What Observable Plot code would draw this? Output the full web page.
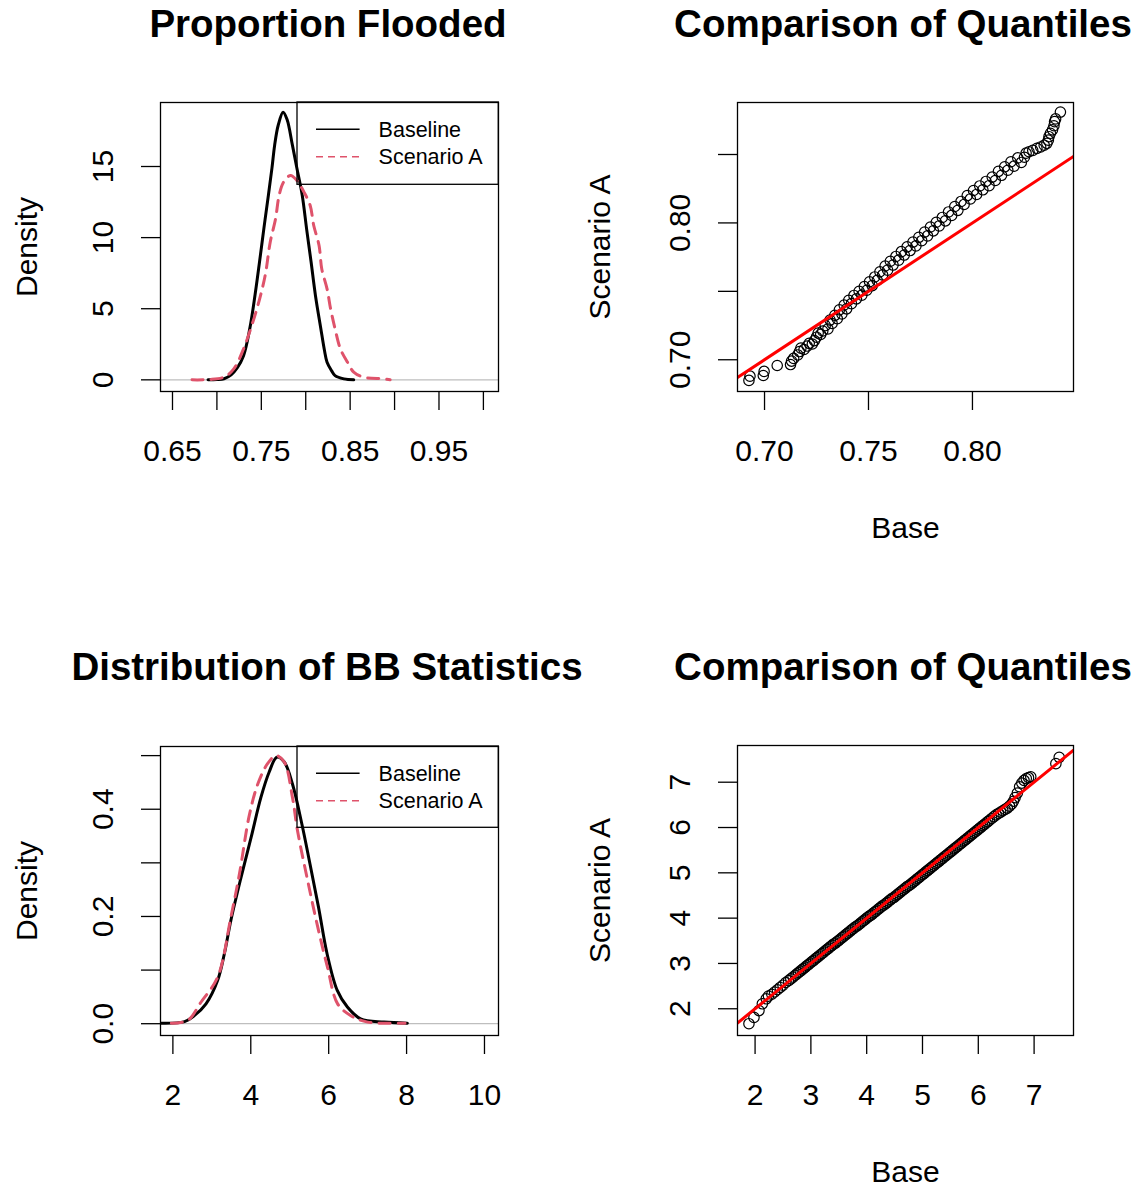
<!DOCTYPE html>
<html>
<head>
<meta charset="utf-8">
<script src="https://cdn.jsdelivr.net/npm/d3@7"></script>
<script src="https://cdn.jsdelivr.net/npm/@observablehq/plot@0.6"></script>
<style>
  html, body { margin: 0; padding: 0; background: #fff; }
  #page { position: relative; width: 1138px; height: 1190px; overflow: hidden; background: #fff; }
</style>
</head>
<body>
<div id="page"></div>
<script>
// ---------------- Data ----------------
// Panel 1: Proportion Flooded (density curves)
const p1BaseX = [0.690, 0.700, 0.708, 0.716, 0.723, 0.730, 0.737, 0.743, 0.748, 0.753, 0.758, 0.762, 0.765, 0.769, 0.7745, 0.779, 0.785, 0.790, 0.796, 0.801, 0.806, 0.811, 0.817, 0.821, 0.824, 0.829, 0.833, 0.843, 0.854];
const p1BaseY = [0.00, 0.02, 0.08, 0.35, 0.85, 1.70, 3.60, 6.00, 8.30, 10.7, 13.0, 14.9, 16.5, 17.9, 18.82, 18.3, 16.5, 14.9, 13.0, 10.6, 8.30, 5.90, 3.60, 2.10, 1.24, 0.65, 0.30, 0.07, 0.00];
const p1ScenX = [0.672, 0.691, 0.708, 0.719, 0.730, 0.738, 0.745, 0.751, 0.755, 0.760, 0.766, 0.770, 0.775, 0.783, 0.790, 0.798, 0.805, 0.809, 0.815, 0.818, 0.824, 0.828, 0.833, 0.839, 0.847, 0.854, 0.865, 0.888, 0.895];
const p1ScenY = [0.00, 0.02, 0.19, 0.77, 2.18, 3.59, 4.99, 6.40, 7.57, 9.68, 11.32, 12.96, 13.90, 14.37, 14.02, 13.20, 12.26, 10.85, 9.45, 7.81, 6.40, 4.99, 3.59, 2.18, 1.24, 0.54, 0.19, 0.07, 0.00];
const p1XTicks = [0.65, 0.70, 0.75, 0.80, 0.85, 0.90, 0.95, 1.00];
const p1XLabels = ["0.65", "", "0.75", "", "0.85", "", "0.95", ""];
const p1YTicks = [0, 5, 10, 15];
const p1YLabels = ["0", "5", "10", "15"];
const p1XDomain = [0.6365, 1.017];
const p1YDomain = [-0.82, 19.5];

// Panel 2: Comparison of Quantiles (proportion flooded)
const p2Base = [0.6925,0.6930,0.6994,0.6998,0.7061,0.7125,0.7130,0.7140,0.7160,0.7168,
                0.7175,0.7190,0.7205,0.7215,0.7230,0.7240,0.7250,0.7258,0.7270,0.7280,
                0.7292,0.7305,0.7315,0.7325,0.7338,0.7350,0.7360,0.7372,0.7383,0.7395,
                0.7405,0.7418,0.7430,0.7442,0.7455,0.7468,0.7480,0.7492,0.7505,0.7518,
                0.7530,0.7542,0.7555,0.7568,0.7580,0.7592,0.7605,0.7618,0.7632,0.7645,
                0.7658,0.7672,0.7686,0.7700,0.7714,0.7728,0.7742,0.7756,0.7770,0.7784,
                0.7798,0.7812,0.7826,0.7840,0.7855,0.7870,0.7885,0.7900,0.7915,0.7930,
                0.7945,0.7960,0.7975,0.7990,0.8005,0.8020,0.8035,0.8050,0.8065,0.8080,
                0.8095,0.8110,0.8125,0.8140,0.8155,0.8170,0.8185,0.8200,0.8218,0.8235,
                0.8250,0.8258,0.8272,0.8290,0.8310,0.8328,0.8345,0.8358,0.8365,0.8368,
                0.8375,0.8385,0.8392,0.8395,0.8400,0.8423];
const p2Scen = [0.6849,0.6880,0.6885,0.6915,0.6958,0.6965,0.6990,0.7010,0.7035,0.7060,
                0.7085,0.7075,0.7100,0.7120,0.7115,0.7140,0.7165,0.7195,0.7185,0.7210,
                0.7250,0.7225,0.7290,0.7265,0.7325,0.7300,0.7365,0.7335,0.7400,0.7372,
                0.7435,0.7410,0.7470,0.7445,0.7500,0.7472,0.7535,0.7508,0.7570,0.7542,
                0.7605,0.7580,0.7643,0.7620,0.7685,0.7655,0.7720,0.7692,0.7755,0.7728,
                0.7790,0.7765,0.7825,0.7798,0.7860,0.7832,0.7895,0.7870,0.7933,0.7905,
                0.7970,0.7942,0.8005,0.7978,0.8040,0.8015,0.8080,0.8055,0.8120,0.8092,
                0.8157,0.8135,0.8200,0.8175,0.8237,0.8208,0.8270,0.8242,0.8303,0.8272,
                0.8335,0.8310,0.8377,0.8348,0.8410,0.8385,0.8447,0.8415,0.8475,0.8442,
                0.8480,0.8510,0.8520,0.8530,0.8545,0.8555,0.8568,0.8582,0.8605,0.8630,
                0.8655,0.8680,0.8710,0.8740,0.8760,0.8810];
const p2XTicks = [0.70, 0.75, 0.80];
const p2XLabels = ["0.70", "0.75", "0.80"];
const p2YTicks = [0.70, 0.75, 0.80, 0.85];
const p2YLabels = ["0.70", "", "0.80", ""];
const p2XDomain = [0.687, 0.8486];
const p2YDomain = [0.6768, 0.888];

// Panel 3: Distribution of BB Statistics (density curves)
const p3BaseX = [1.70, 2.30, 2.55, 2.85, 3.15, 3.32, 3.49, 3.75, 4.01, 4.26, 4.47, 4.67, 4.86, 5.07, 5.31, 5.52, 5.74, 5.96, 6.22, 6.48, 6.82, 7.42, 8.02];
const p3BaseY = [0.001, 0.004, 0.015, 0.037, 0.081, 0.130, 0.193, 0.273, 0.348, 0.422, 0.469, 0.497, 0.488, 0.447, 0.373, 0.298, 0.217, 0.130, 0.062, 0.031, 0.009, 0.003, 0.001];
const p3ScenX = [1.96, 2.38, 2.72, 3.15, 3.49, 3.71, 3.96, 4.18, 4.43, 4.65, 4.86, 5.07, 5.20, 5.46, 5.72, 5.97, 6.23, 6.57, 7.00, 7.96];
const p3ScenY = [0.001, 0.006, 0.040, 0.087, 0.199, 0.280, 0.388, 0.447, 0.485, 0.500, 0.488, 0.422, 0.360, 0.267, 0.180, 0.105, 0.037, 0.015, 0.003, 0.001];
const p3XTicks = [2, 4, 6, 8, 10];
const p3XLabels = ["2", "4", "6", "8", "10"];
const p3YTicks = [0.0, 0.1, 0.2, 0.3, 0.4, 0.5];
const p3YLabels = ["0.0", "", "0.2", "", "0.4", ""];
const p3XDomain = [1.682, 10.36];
const p3YDomain = [-0.022, 0.517];

// Panel 4: Comparison of Quantiles (BB statistics)
const p4Base = [1.89, 1.98, 2.07, 2.13, 2.20, 2.24, 2.30, 2.35, 2.40, 2.45,
                2.50, 2.55, 2.60, 2.64, 2.68, 2.72, 2.75, 2.78, 2.81, 2.84,
                2.87, 2.90, 2.93, 2.96, 2.99, 3.02, 3.05, 3.08, 3.11, 3.14,
                3.17, 3.20, 3.23, 3.26, 3.29, 3.32, 3.35, 3.38, 3.41, 3.44,
                3.47, 3.50, 3.53, 3.56, 3.59, 3.62, 3.65, 3.68, 3.71, 3.74,
                3.77, 3.80, 3.83, 3.86, 3.89, 3.92, 3.95, 3.98, 4.01, 4.04,
                4.07, 4.10, 4.13, 4.16, 4.19, 4.22, 4.25, 4.28, 4.31, 4.34,
                4.37, 4.40, 4.43, 4.46, 4.49, 4.52, 4.55, 4.58, 4.61, 4.64,
                4.67, 4.70, 4.73, 4.76, 4.79, 4.82, 4.85, 4.88, 4.91, 4.94,
                4.97, 5.00, 5.03, 5.06, 5.09, 5.12, 5.15, 5.18, 5.21, 5.24,
                5.27, 5.30, 5.33, 5.36, 5.39, 5.42, 5.45, 5.48, 5.51, 5.54,
                5.57, 5.60, 5.63, 5.66, 5.69, 5.72, 5.75, 5.78, 5.81, 5.84,
                5.87, 5.90, 5.93, 5.96, 5.99, 6.02, 6.05, 6.08, 6.11, 6.14,
                6.17, 6.20, 6.24, 6.28, 6.32, 6.36, 6.40, 6.44, 6.48, 6.52,
                6.56, 6.60, 6.63, 6.66, 6.70, 6.74, 6.78, 6.82, 6.86, 6.90,
                6.94, 7.39, 7.45];
const p4Scen = [1.67, 1.81, 1.96, 2.11, 2.22, 2.28, 2.32, 2.37, 2.42, 2.47,
                2.52, 2.58, 2.62, 2.66, 2.70, 2.74, 2.77, 2.80, 2.83, 2.86,
                2.89, 2.92, 2.95, 2.98, 3.01, 3.04, 3.07, 3.10, 3.13, 3.16,
                3.19, 3.22, 3.25, 3.28, 3.31, 3.34, 3.37, 3.40, 3.43, 3.45,
                3.48, 3.51, 3.54, 3.57, 3.60, 3.63, 3.66, 3.69, 3.72, 3.75,
                3.78, 3.81, 3.83, 3.86, 3.89, 3.92, 3.95, 3.98, 4.01, 4.04,
                4.06, 4.09, 4.12, 4.15, 4.18, 4.21, 4.24, 4.27, 4.29, 4.32,
                4.35, 4.38, 4.41, 4.44, 4.46, 4.49, 4.52, 4.55, 4.58, 4.61,
                4.64, 4.67, 4.70, 4.72, 4.75, 4.78, 4.81, 4.84, 4.87, 4.90,
                4.93, 4.96, 4.99, 5.02, 5.05, 5.08, 5.11, 5.14, 5.17, 5.20,
                5.23, 5.26, 5.29, 5.32, 5.35, 5.38, 5.41, 5.44, 5.47, 5.50,
                5.53, 5.56, 5.59, 5.62, 5.65, 5.68, 5.71, 5.74, 5.77, 5.80,
                5.83, 5.86, 5.89, 5.92, 5.95, 5.98, 6.01, 6.04, 6.07, 6.10,
                6.13, 6.16, 6.20, 6.24, 6.28, 6.31, 6.34, 6.37, 6.40, 6.43,
                6.47, 6.52, 6.58, 6.66, 6.76, 6.90, 6.98, 7.04, 7.08, 7.10,
                7.12, 7.41, 7.55];
const p4XTicks = [2, 3, 4, 5, 6, 7];
const p4XLabels = ["2", "3", "4", "5", "6", "7"];
const p4YTicks = [2, 3, 4, 5, 6, 7];
const p4YLabels = ["2", "3", "4", "5", "6", "7"];
const p4XDomain = [1.685, 7.706];
const p4YDomain = [1.41, 7.81];

const titles = ["Proportion Flooded", "Comparison of Quantiles", "Distribution of BB Statistics", "Comparison of Quantiles"];
const legendLabels = ["Baseline", "Scenario A"];
const colBase = "#000000";
const colScen = "#DF536B";
const colRef = "#FF0000";

// ---------------- Rendering ----------------
const FONT = '"Liberation Sans", Arial, Helvetica, sans-serif';
const page = document.getElementById("page");

function addTitle(text, cx, cy) {
  const d = document.createElement("div");
  d.textContent = text;
  Object.assign(d.style, {
    position: "absolute", left: (cx - 300) + "px", top: (cy - 25) + "px",
    width: "600px", height: "50px", lineHeight: "50px", textAlign: "center",
    fontWeight: "bold", fontSize: "38.5px", fontFamily: FONT, color: "#000", whiteSpace: "nowrap"
  });
  page.appendChild(d);
}

function addLegend(left, top, width, height) {
  const svg = d3.create("svg")
    .attr("width", width + 4).attr("height", height + 4)
    .style("position", "absolute").style("left", (left - 2) + "px").style("top", (top - 2) + "px")
    .style("overflow", "visible");
  svg.append("rect").attr("x", 2).attr("y", 2).attr("width", width).attr("height", height)
    .attr("fill", "none").attr("stroke", "#000").attr("stroke-width", 1.3);
  const rows = [
    {label: legendLabels[0], color: colBase, dash: null},
    {label: legendLabels[1], color: colScen, dash: "7,5"}
  ];
  rows.forEach((r, i) => {
    const y = 2 + 27.3 + i * 27.4;
    const ln = svg.append("line").attr("x1", 2 + 19).attr("x2", 2 + 62.6).attr("y1", y).attr("y2", y)
      .attr("stroke", r.color).attr("stroke-width", 1.6);
    if (r.dash) ln.attr("stroke-dasharray", r.dash);
    svg.append("text").attr("x", 2 + 81.6).attr("y", y).attr("dy", "0.35em")
      .attr("font-family", FONT).attr("font-size", 21.5).attr("fill", "#000").text(r.label);
  });
  page.appendChild(svg.node());
}

function panel(cfg) {
  const fmtX = new Map(cfg.xTicks.map((t, i) => [t, cfg.xLabels[i]]));
  const fmtY = new Map(cfg.yTicks.map((t, i) => [t, cfg.yLabels[i]]));
  const marks = [
    ...cfg.marks,
    Plot.frame({stroke: "#000", strokeWidth: 1.3}),
    Plot.axisX({ticks: cfg.xTicks, tickSize: 19, tickPadding: 29, tickFormat: d => fmtX.get(d) ?? "", strokeWidth: 1.3, label: null}),
    Plot.axisY({ticks: cfg.yTicks, tickSize: 19, tickPadding: 38, tickRotate: -90, lineAnchor: "middle", tickFormat: d => fmtY.get(d) ?? "", strokeWidth: 1.3, label: null}),
    cfg.xLabel ? Plot.text([cfg.xLabel], {text: d => d, frameAnchor: "bottom", dy: 137, lineAnchor: "middle", textAnchor: "middle"}) : null,
    Plot.text([cfg.yLabel], {text: d => d, frameAnchor: "left", dx: -cfg.yLabelOff, rotate: -90, lineAnchor: "middle", textAnchor: "middle"})
  ].filter(Boolean);
  const chart = Plot.plot({
    width: 569, height: cfg.height,
    marginTop: cfg.mt, marginBottom: cfg.mb, marginLeft: cfg.ml, marginRight: cfg.mr,
    x: {domain: cfg.xDomain, label: null},
    y: {domain: cfg.yDomain, label: null},
    style: {fontFamily: FONT, fontSize: "30px", color: "#000", background: "transparent", overflow: "visible"},
    marks
  });
  chart.style.position = "absolute";
  chart.style.left = cfg.left + "px";
  chart.style.top = cfg.top + "px";
  page.appendChild(chart);
}

function densityMarks(bx, by, sx, sy) {
  const base = bx.map((x, i) => ({x, y: by[i]}));
  const scen = sx.map((x, i) => ({x, y: sy[i]}));
  return [
    Plot.ruleY([0], {stroke: "#BEBEBE", strokeWidth: 1.3}),
    Plot.line(base, {x: "x", y: "y", stroke: colBase, strokeWidth: 3, curve: "catmull-rom", clip: true}),
    Plot.line(scen, {x: "x", y: "y", stroke: colScen, strokeWidth: 3, strokeDasharray: "11,8", curve: "catmull-rom", clip: true})
  ];
}

function qqMarks(b, s, xDomain) {
  const pts = b.map((v, i) => ({b: v, s: s[i]}));
  return [
    Plot.dot(pts, {x: "b", y: "s", r: 5.2, stroke: "#000", strokeWidth: 1.2, fill: "none", clip: true}),
    Plot.line(xDomain, {x: d => d, y: d => d, stroke: colRef, strokeWidth: 3, clip: true})
  ];
}

// Panel 1
panel({
  left: 0, top: 50, height: 545, mt: 52, mb: 204, ml: 160, mr: 71,
  xDomain: p1XDomain, yDomain: p1YDomain,
  xTicks: p1XTicks, xLabels: p1XLabels, yTicks: p1YTicks, yLabels: p1YLabels,
  yLabel: "Density", yLabelOff: 133,
  marks: densityMarks(p1BaseX, p1BaseY, p1ScenX, p1ScenY)
});
addTitle(titles[0], 328, 24);
addLegend(296.7, 102, 201.3, 82.3);

// Panel 2
panel({
  left: 569, top: 50, height: 545, mt: 52, mb: 204, ml: 168, mr: 65,
  xDomain: p2XDomain, yDomain: p2YDomain,
  xTicks: p2XTicks, xLabels: p2XLabels, yTicks: p2YTicks, yLabels: p2YLabels,
  xLabel: "Base", yLabel: "Scenario A", yLabelOff: 137,
  marks: qqMarks(p2Base, p2Scen, p2XDomain)
});
addTitle(titles[1], 903, 24);

// Panel 3
panel({
  left: 0, top: 693, height: 497, mt: 53, mb: 155, ml: 160, mr: 71,
  xDomain: p3XDomain, yDomain: p3YDomain,
  xTicks: p3XTicks, xLabels: p3XLabels, yTicks: p3YTicks, yLabels: p3YLabels,
  yLabel: "Density", yLabelOff: 133,
  marks: densityMarks(p3BaseX, p3BaseY, p3ScenX, p3ScenY)
});
addTitle(titles[2], 327, 667);
addLegend(296.7, 746, 201.3, 81.3);

// Panel 4
panel({
  left: 569, top: 693, height: 497, mt: 52, mb: 155, ml: 168, mr: 65,
  xDomain: p4XDomain, yDomain: p4YDomain,
  xTicks: p4XTicks, xLabels: p4XLabels, yTicks: p4YTicks, yLabels: p4YLabels,
  xLabel: "Base", yLabel: "Scenario A", yLabelOff: 137,
  marks: qqMarks(p4Base, p4Scen, p4XDomain)
});
addTitle(titles[3], 903, 667);
</script>
</body>
</html>
